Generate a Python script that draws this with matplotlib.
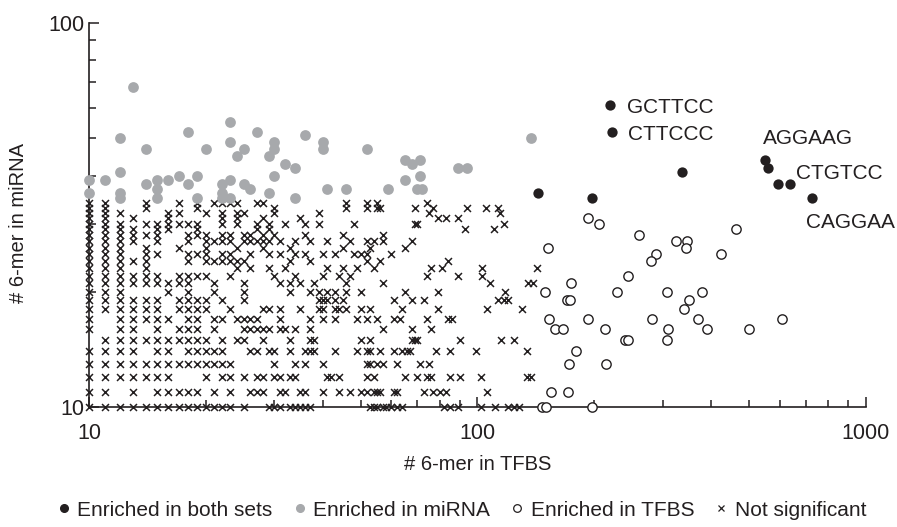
import matplotlib
matplotlib.use("Agg")
import matplotlib.pyplot as plt
from matplotlib.lines import Line2D

plt.rcParams['font.family'] = ['Liberation Sans', 'DejaVu Sans']

# enriched in both sets (black dots) and their labels
both_x = [219, 222, 337, 143, 197, 549, 560, 594, 637, 728]
both_y = [61, 52, 41, 36, 35, 44, 42, 38, 38, 35]
motif_labels = ['GCTTCC', 'CTTCCC', 'AGGAAG', 'CTGTCC', 'CAGGAA']
motif_x = [242, 244, 543, 659, 701]
motif_y = [60.1, 51.3, 50.0, 40.5, 30.2]

# enriched in miRNA (grey dots)
mirna_x = [13, 12, 14, 18, 20, 23, 23, 25, 24, 27, 30, 30, 29, 32, 34, 36, 40, 40, 52,
           12, 10, 11, 10, 12, 12, 14, 15, 15, 15, 16, 17, 18, 19, 19, 22, 22, 22, 23,
           23, 25, 26, 29, 30, 34, 41, 46, 59, 65, 71, 70, 72, 65, 68, 71, 89, 94, 137]
mirna_y = [68, 50, 47, 52, 47, 55, 49, 47, 45, 52, 49, 47, 45, 43, 42, 51, 49, 47, 47,
           41, 39, 39, 36, 36, 35, 38, 39, 37, 35, 39, 40, 38, 40, 35, 38, 36, 35, 39,
           35, 38, 37, 36, 40, 35, 37, 37, 37, 39, 40, 37, 37, 44, 43, 44, 42, 42, 50]

# enriched in TFBS (open circles)
tfbs_x = [192, 205, 260, 152, 324, 347, 344, 462, 288, 279, 423, 244, 174, 149, 228,
          307, 378, 170, 173, 350, 340, 153, 192, 281, 369, 607, 158, 166, 213, 310,
          389, 501, 240, 244, 307, 179, 172, 214, 155, 171, 147, 150, 197]
tfbs_y = [31, 30, 28, 26, 27, 27, 26, 29, 25, 24, 25, 22, 21, 20, 20,
          20, 20, 19, 19, 19, 18, 17, 17, 17, 17, 17, 16, 16, 16, 16,
          16, 16, 15, 15, 15, 14, 13, 13, 11, 11, 10, 10, 10]

# not significant (crosses), one row per count in miRNA
ns_rows = [10, 11, 12, 13, 14, 15, 16, 17, 18, 19, 20, 21, 22, 23, 24, 25, 26, 27,
           28, 29, 30, 31, 32, 33, 34]
ns_cols = [
    [10, 11, 12, 13, 14, 15, 16, 17, 18, 19, 20, 21, 22, 23, 25, 29, 30, 31, 33, 34,
     35, 36, 37, 53, 54, 55, 57, 58, 60, 62, 64, 82, 85, 89, 102, 111, 120, 124, 128],
    [10, 11, 13, 15, 16, 17, 18, 19, 21, 23, 26, 27, 28, 31, 32, 35, 36, 40, 44, 47,
     50, 52, 54, 55, 56, 61, 62, 73, 77, 80, 83, 106],
    [10, 11, 12, 13, 14, 15, 16, 20, 22, 23, 25, 27, 28, 30, 31, 33, 34, 41, 42, 44,
     52, 54, 65, 70, 74, 76, 85, 90, 102, 134, 137],
    [10, 11, 12, 13, 14, 15, 16, 17, 18, 19, 20, 21, 22, 23, 30, 34, 36, 40, 52, 53,
     55, 57, 62, 71, 75],
    [10, 11, 12, 13, 15, 16, 18, 19, 20, 21, 22, 26, 27, 29, 30, 33, 36, 37, 38, 43,
     49, 52, 53, 56, 61, 64, 66, 67, 78, 85, 99, 134],
    [11, 12, 13, 14, 15, 16, 17, 18, 19, 20, 22, 24, 25, 28, 33, 37, 38, 50, 53, 68,
     69, 70, 90, 115, 124],
    [10, 12, 13, 15, 17, 18, 19, 21, 25, 26, 27, 28, 29, 31, 32, 34, 37, 57, 68, 76],
    [10, 12, 13, 14, 15, 16, 18, 19, 21, 22, 24, 25, 26, 27, 31, 37, 40, 43, 49, 52,
     55, 61, 63, 74, 84, 86],
    [10, 11, 12, 13, 14, 15, 17, 18, 19, 20, 23, 28, 29, 31, 35, 39, 40, 43, 44, 46,
     50, 53, 64, 79, 106, 130],
    [10, 11, 12, 13, 14, 15, 17, 18, 19, 20, 22, 25, 39, 40, 41, 43, 45, 61, 68, 73,
     113, 117, 120],
    [10, 11, 12, 16, 18, 21, 25, 33, 37, 39, 41, 43, 46, 50, 65, 79, 118],
    [10, 11, 12, 13, 14, 15, 16, 17, 18, 21, 25, 31, 33, 35, 38, 46, 57, 108, 135, 139],
    [10, 11, 12, 13, 14, 15, 17, 18, 19, 20, 23, 30, 34, 40, 44, 47, 74, 89, 103],
    [10, 11, 12, 14, 24, 26, 29, 32, 41, 45, 49, 54, 76, 81, 103, 142],
    [10, 11, 12, 13, 14, 18, 20, 21, 22, 23, 24, 25, 33, 37, 52, 56, 84],
    [10, 11, 12, 14, 15, 18, 19, 20, 22, 23, 26, 29, 31, 34, 36, 40, 43, 48, 50, 52, 60],
    [10, 11, 12, 14, 17, 20, 24, 28, 33, 45, 53, 65],
    [10, 11, 12, 13, 15, 18, 20, 21, 22, 23, 25, 26, 27, 28, 29, 31, 34, 37, 41, 47,
     52, 54, 57, 68],
    [10, 11, 12, 13, 14, 15, 18, 19, 20, 22, 23, 25, 26, 28, 30, 36, 45, 57],
    [10, 11, 12, 13, 15, 16, 19, 27, 29, 93, 110],
    [10, 11, 12, 14, 15, 16, 17, 18, 19, 22, 24, 27, 29, 32, 36, 39, 48, 69, 70, 117],
    [10, 11, 13, 16, 22, 24, 28, 35, 79, 83, 89],
    [10, 11, 12, 16, 17, 20, 22, 24, 25, 30, 39, 75, 114],
    [10, 11, 14, 19, 30, 46, 52, 55, 56, 69, 77, 94, 105, 113],
    [10, 11, 14, 17, 19, 21, 22, 23, 24, 27, 28, 46, 52, 55, 74],
]

ns_x = []
ns_y = []
for row, cols in zip(ns_rows, ns_cols):
    ns_x += cols
    ns_y += [row] * len(cols)

ink = '#231f20'
grey = '#a7a9ac'

fig = plt.figure(figsize=(8.97, 5.27), dpi=100)
ax = fig.add_axes([0.0992, 0.2268, 0.8662, 0.7305])

ax.scatter(ns_x, ns_y, marker='x', s=25, linewidths=1.1, color=ink, clip_on=False, zorder=3)
ax.scatter(mirna_x, mirna_y, marker='o', s=60, color=grey, linewidths=0, clip_on=False, zorder=4)
ax.scatter(tfbs_x, tfbs_y, marker='o', s=45, facecolors='white', edgecolors=ink,
           linewidths=1.0, clip_on=False, zorder=4)
ax.scatter(both_x, both_y, marker='o', s=55, color=ink, linewidths=0, clip_on=False, zorder=5)

for lab, lx, ly in zip(motif_labels, motif_x, motif_y):
    ax.text(lx, ly, lab, fontsize=15, color=ink, va='center', ha='left')

ax.set_xscale('log')
ax.set_yscale('log')
ax.set_xlim(10, 1000)
ax.set_ylim(10, 100)
ax.set_xticks([10, 100, 1000])
ax.set_xticklabels(['10', '100', '1000'])
ax.set_yticks([10, 100])
ax.set_yticklabels(['10', '100'])

for s in ['top', 'right']:
    ax.spines[s].set_visible(False)
for s in ['left', 'bottom']:
    ax.spines[s].set_color(ink)
    ax.spines[s].set_linewidth(1.2)

ax.tick_params(which='major', direction='in', length=7, width=1.1, colors=ink,
               labelsize=15.5)
ax.tick_params(which='minor', direction='in', length=5, width=1.1, colors=ink)
ax.tick_params(axis='x', which='major', pad=11)
ax.tick_params(axis='y', which='major', pad=3)
ax.yaxis.set_minor_formatter(plt.NullFormatter())
ax.xaxis.set_minor_formatter(plt.NullFormatter())

ax.set_xlabel('# 6-mer in TFBS', fontsize=14.5, color=ink, labelpad=8)
ax.set_ylabel('# 6-mer in miRNA', fontsize=14.5, color=ink)
ax.yaxis.set_label_coords(-0.078, 0.48)

handles = [
    Line2D([], [], ls='none', marker='o', ms=5.5, mfc=ink, mec=ink),
    Line2D([], [], ls='none', marker='o', ms=5.5, mfc=grey, mec=grey),
    Line2D([], [], ls='none', marker='o', ms=5.5, mfc='white', mec=ink, mew=0.9),
    Line2D([], [], ls='none', marker='x', ms=4.5, mec=ink, mew=0.9),
]
labels = ['Enriched in both sets', 'Enriched in miRNA', 'Enriched in TFBS', 'Not significant']
fig.legend(handles, labels, loc='center', bbox_to_anchor=(0.515, 0.032), ncol=4,
           frameon=False, fontsize=15, handletextpad=0.35, columnspacing=1.0,
           handlelength=0.6, labelcolor=ink)

fig.savefig('out.png', dpi=100)
